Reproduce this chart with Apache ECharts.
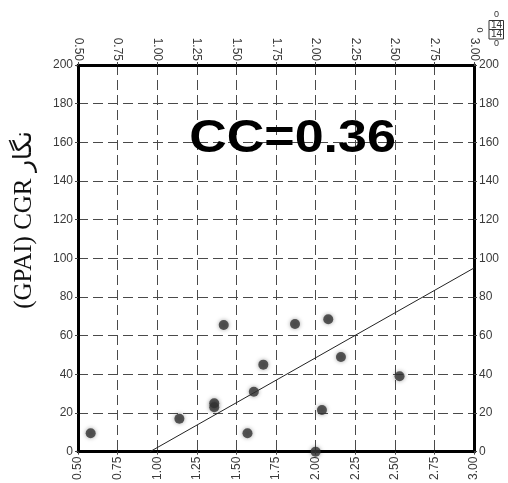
<!DOCTYPE html>
<html>
<head>
<meta charset="utf-8">
<script src="https://cdn.jsdelivr.net/npm/echarts@6/dist/echarts.min.js"></script>
<style>html,body{margin:0;padding:0;background:#fff;}#c{width:508px;height:483px;}</style>
</head>
<body>
<div id="c"></div>
<script>
// Data
var xVals = [0.58, 1.14, 1.36, 1.36, 1.42, 1.57, 1.61, 1.67, 1.87, 2.00, 2.04, 2.08, 2.16, 2.53];
var yVals = [9.5, 17, 25, 23, 65.5, 9.5, 31, 45, 66, 0, 21.5, 68.5, 49, 39];
var trendX = [0.955, 3.0];
var trendY = [0, 95];
var titleText = 'CC=0.36';
var yAxisTitle = '(GPAI) CGR نگار';
var legendTexts = ['0', '14', '14', '0', '0'];

var points = xVals.map(function (x, i) { return [x, yVals[i]]; });
var trend = trendX.map(function (x, i) { return [x, trendY[i]]; });

var chart = echarts.init(document.getElementById('c'), null, {renderer: 'canvas'});
var labelFont = {color: '#3a3a3a', fontSize: 12, fontFamily: 'Liberation Sans, Arial, sans-serif'};
function xAxisDef(pos, showSplit, margin) {
  return {
    type: 'value', position: pos, min: 0.5, max: 3, interval: 0.25,
    axisLine: {show: true, onZero: false, lineStyle: {color: '#000', width: 3}},
    axisTick: {show: true, length: 3, lineStyle: {color: '#444'}},
    axisLabel: Object.assign({rotate: 90, margin: margin, formatter: function (v) { return v.toFixed(2); }}, labelFont),
    splitLine: {show: showSplit, lineStyle: {color: '#4a4a4a', width: 1, type: [10, 5]}}
  };
}
function yAxisDef(pos, showSplit) {
  return {
    type: 'value', position: pos, min: 0, max: 200, interval: 20,
    axisLine: {show: true, onZero: false, lineStyle: {color: '#000', width: 3}},
    axisTick: {show: true, length: 3, lineStyle: {color: '#444'}},
    axisLabel: Object.assign({margin: 5}, labelFont),
    splitLine: {show: showSplit, lineStyle: {color: '#4a4a4a', width: 1, type: [10, 5]}}
  };
}
var option = {
  animation: false,
  backgroundColor: '#fff',
  grid: {left: 78, right: 34, top: 65, bottom: 30, containLabel: false},
  xAxis: [xAxisDef('bottom', true, 5), xAxisDef('top', false, 4)],
  yAxis: [yAxisDef('left', true), yAxisDef('right', false)],
  series: [
    {
      type: 'line', data: trend, xAxisIndex: 0, yAxisIndex: 0,
      showSymbol: false, symbol: 'none',
      lineStyle: {color: '#222', width: 1}, z: 3
    },
    {
      type: 'scatter', data: points, xAxisIndex: 0, yAxisIndex: 0,
      symbolSize: 10, clip: false,
      itemStyle: {color: '#333', shadowBlur: 4, shadowColor: 'rgba(0,0,0,0.45)'}, z: 4
    }
  ],
  graphic: [
    {
      type: 'text', x: 292.5, y: 139, scaleX: 1.13, z: 10,
      style: {text: titleText, font: 'bold 46px "Liberation Sans", Arial, sans-serif', fill: '#000', align: 'center', verticalAlign: 'middle'}
    },
    {
      type: 'text', x: 24, y: 220, rotation: Math.PI / 2, z: 10,
      style: {text: yAxisTitle, font: '25px "Liberation Serif", "DejaVu Serif", serif', fill: '#111', align: 'center', verticalAlign: 'middle'}
    },
    {type: 'rect', shape: {x: 489, y: 20.5, width: 14.5, height: 9}, style: {fill: 'none', stroke: '#333', lineWidth: 1}},
    {type: 'rect', shape: {x: 489, y: 29.5, width: 14.5, height: 9.5}, style: {fill: 'none', stroke: '#333', lineWidth: 1}},
    {type: 'text', x: 496.5, y: 15, style: {text: legendTexts[0], font: '9px "Liberation Sans", Arial, sans-serif', fill: '#333', align: 'center', verticalAlign: 'middle'}},
    {type: 'text', x: 496.5, y: 25, style: {text: legendTexts[1], font: '10px "Liberation Sans", Arial, sans-serif', fill: '#333', align: 'center', verticalAlign: 'middle'}},
    {type: 'text', x: 496.5, y: 34.5, style: {text: legendTexts[2], font: '10px "Liberation Sans", Arial, sans-serif', fill: '#333', align: 'center', verticalAlign: 'middle'}},
    {type: 'text', x: 496.5, y: 44, style: {text: legendTexts[3], font: '9px "Liberation Sans", Arial, sans-serif', fill: '#333', align: 'center', verticalAlign: 'middle'}},
    {type: 'text', x: 481, y: 30, rotation: Math.PI / 2, style: {text: legendTexts[4], font: '9px "Liberation Sans", Arial, sans-serif', fill: '#333', align: 'center', verticalAlign: 'middle'}}
  ]
};
chart.setOption(option);
</script>
</body>
</html>
